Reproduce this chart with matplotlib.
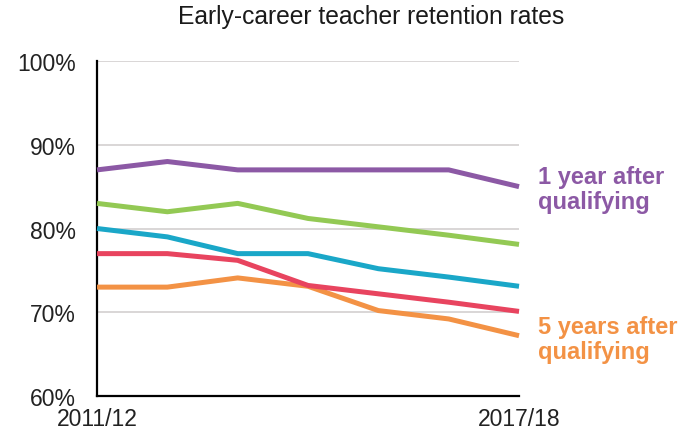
import matplotlib.pyplot as plt

plt.rcParams['font.family'] = ['Liberation Sans', 'DejaVu Sans']

years = ['2011/12', '2012/13', '2013/14', '2014/15', '2015/16', '2016/17', '2017/18']
yr1 = [87, 88, 87, 87, 87, 87, 85]
yr2 = [83, 82, 83, 81.2, 80.2, 79.2, 78.1]
yr3 = [80, 79, 77, 77, 75.2, 74.2, 73.1]
yr4 = [77, 77, 76.2, 73.2, 72.2, 71.2, 70.1]
yr5 = [73, 73, 74.1, 73.1, 70.2, 69.2, 67.2]

purple = '#8c59a5'
green = '#93c954'
cyan = '#1aa7c8'
red = '#e8445f'
orange = '#f39245'

fig = plt.figure(figsize=(6.79, 4.35), dpi=100)
ax = fig.add_axes([0.1429, 0.0874, 0.6215, 0.770])

x = list(range(len(years)))
for vals, c in [(yr5, orange), (yr4, red), (yr3, cyan), (yr2, green), (yr1, purple)]:
    ax.plot(x, vals, color=c, lw=3.6, solid_capstyle='butt', clip_on=False, zorder=3)

ax.set_xlim(0, 6)
ax.set_ylim(60, 100)
ax.set_yticks([60, 70, 80, 90, 100])
ax.set_yticklabels(['60%', '70%', '80%', '90%', '100%'], fontsize=16.5, color='#222222')
ax.set_xticks([0, 6])
ax.set_xticklabels([years[0], years[-1]], fontsize=16.5, color='#222222')
ax.tick_params(length=0)
ax.tick_params(axis='x', pad=8)
ax.tick_params(axis='y', pad=15)

for g in [70, 80, 90, 100]:
    ax.axhline(g, color='#d3cfcf', lw=1.2, zorder=1)

for s in ['top', 'right']:
    ax.spines[s].set_visible(False)
for s in ['left', 'bottom']:
    ax.spines[s].set_linewidth(1.6)
    ax.spines[s].set_color('black')

fig.text(371 / 679, 1 - 17 / 435, 'Early-career teacher retention rates',
         ha='center', va='center', fontsize=17.7, color='#1a1a1a')

fig.text(538 / 679, 1 - 190 / 435, '1 year after\nqualifying', ha='left', va='center',
         fontsize=17, fontweight='bold', color=purple, linespacing=1.1)
fig.text(538 / 679, 1 - 340 / 435, '5 years after\nqualifying', ha='left', va='center',
         fontsize=17, fontweight='bold', color=orange, linespacing=1.1)

fig.savefig('out.png', dpi=100)
